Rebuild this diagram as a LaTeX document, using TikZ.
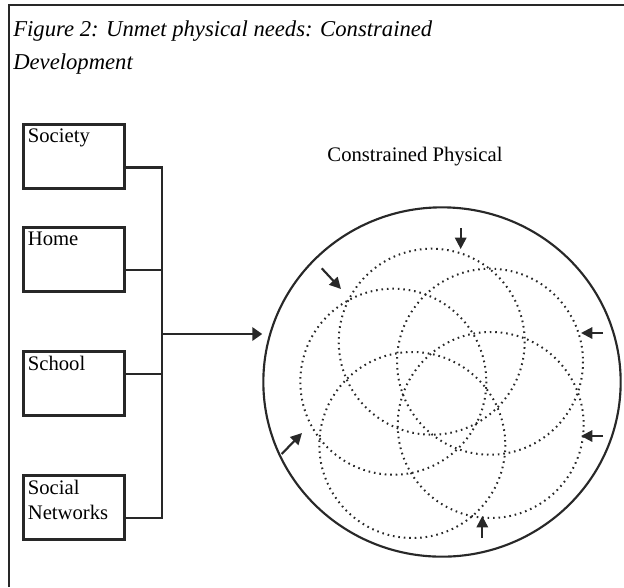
\documentclass[tikz,border=0pt]{standalone}
\usepackage{fontspec}
\setmainfont{Liberation Serif}
\usetikzlibrary{arrows.meta,positioning,shapes.geometric}
\definecolor{ink}{RGB}{40,40,40}
\newcommand{\srcfont}{\fontsize{15.5}{18.75}\selectfont}
\newcommand{\srclbl}[1]{\parbox[c][41pt][t]{69pt}{#1}}

\begin{document}
\begin{tikzpicture}[x=0.75pt,y=-0.75pt,
  srcbox/.style={draw=ink, line width=2pt, anchor=north west, inner xsep=3.4pt, inner ysep=3.5pt, font=\srcfont},
  link/.style={draw=ink, line width=2pt},
  press/.style={draw=ink, line width=1.6pt, -{Triangle[length=8.5pt,width=8.5pt]}},
  ring/.style={draw=ink, line width=1.5pt, dash pattern=on 1.2pt off 2.9pt}]
\useasboundingbox (0,0) rectangle (624,587);
% frame and title
\draw[ink, line width=1.5pt] (9,587) -- (9,5) -- (624,5);
\node[anchor=north west, align=left, inner sep=0pt, font=\fontsize{17}{25}\selectfont\itshape] (title) at (13,20) {Figure 2: Unmet physical needs: Constrained\\Development};
% sources
\node[srcbox] (society) at (22,123) {\srclbl{Society}};
\node[srcbox] (home) at (22,226) {\srclbl{Home}};
\node[srcbox] (school) at (22,350) {\srclbl{School}};
\node[srcbox] (socnet) at (22,474) {\srclbl{Social\\Networks}};
% joins
\coordinate (hub) at (162,334);
\coordinate (socout) at ([yshift=-8.2pt]society.east);
\coordinate (homeout) at ([yshift=-8pt]home.east);
\coordinate (schout) at ([yshift=7pt]school.east);
\coordinate (netout) at ([yshift=-8pt]socnet.east);
\draw[link] (socout) -| (hub);
\draw[link] (netout) -| (hub);
\draw[link] (homeout) -- (homeout -| hub);
\draw[link] (schout) -- (schout -| hub);
% constrained circle
\node[font=\srcfont] (physlbl) at (415,157) {Constrained Physical};
\node[draw=ink, line width=1.6pt, ellipse, minimum width=268pt, minimum height=262pt, inner sep=0pt] (phys) at (442,382) {};
\draw[link, -{Triangle[length=7.5pt,width=10pt]}] (hub) -- (hub -| phys.west);
% overlapping needs
\draw[ring] (431.7,341.7) circle[radius=93];
\draw[ring] (393.3,381.7) circle[radius=93];
\draw[ring] (490,361.7) circle[radius=93];
\draw[ring] (412.3,445) circle[radius=93];
\draw[ring] (490.7,425) circle[radius=93];
% pressure arrows
\coordinate (pa) at (460.7,228); \coordinate (qa) at (460.7,249);
\coordinate (pb) at (321.7,268.3); \coordinate (qb) at (341,289);
\coordinate (pc) at (603,333); \coordinate (qc) at (581,333);
\coordinate (pd) at (603,436); \coordinate (qd) at (581,436);
\coordinate (pe) at (482.3,538); \coordinate (qe) at (482.3,516);
\coordinate (pf) at (281.7,454); \coordinate (qf) at (302,433);
\foreach \k in {a,b,c,d,e,f}
  \draw[press] (p\k) -- (q\k);
\end{tikzpicture}
\end{document}
